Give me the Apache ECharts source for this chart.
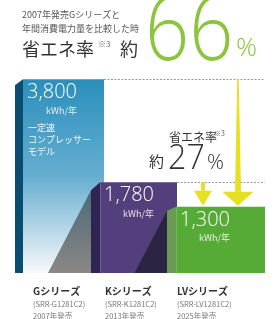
<!DOCTYPE html>
<html><head><meta charset="utf-8">
<script src="https://cdn.jsdelivr.net/npm/echarts@6/dist/echarts.min.js"></script>
<style>html,body{margin:0;padding:0;background:#fff}#c{width:280px;height:319px}</style>
</head><body><div id="c"></div>
<script>
// ---- data ----
const categories = ['Gシリーズ', 'Kシリーズ', 'LVシリーズ'];
const models = ['(SRR-G1281C2)', '(SRR-K1281C2)', '(SRR-LV1281C2)'];
const releaseYears = ['2007年発売', '2013年発売', '2025年発売'];
const consumption = [3800, 1780, 1300];           // kWh/年
const valueLabels = ['3,800', '1,780', '1,300'];
const unitLabel = 'kWh/年';
const barNotes = ['一定速\nコンプレッサー\nモデル', '', ''];
const savingVsG = 66;   // %
const savingVsK = 27;   // %
const headerLines = ['2007年発売Gシリーズと', '年間消費電力量を比較した時'];

// ---- layout / style (not data) ----
const JP = '"Noto Sans CJK JP", "Noto Sans", sans-serif';
const NUM = '"Open Sans", "Noto Sans", sans-serif';
const LAYOUT = [
  {faceL: -33.67, faceR: 47.33, strip: 8, slant: 6, labelX: -23.67},
  {faceL: -40, faceR: 37, strip: 9, slant: 8, labelX: -35},
  {faceL: -47.33, faceR: 41.67, strip: 9, slant: 4, labelX: -46.33}
];
const FACE = [
  () => new echarts.graphic.LinearGradient(0, 0, 0, 1, [
    {offset: 0, color: '#2a8fbb'}, {offset: 0.5, color: '#66aed1'}, {offset: 1, color: '#f7f8fa'}]),
  () => '#533f7b',
  () => '#55ab35'
];
const STRIP = ['#0b4d70', '#2f2452', '#6b9a57'];
const SHADOW = [null,
  () => new echarts.graphic.LinearGradient(0, 0, 0, 1, [{offset: 0, color: '#4b6a7b'}, {offset: 1, color: '#8b8783'}]),
  () => '#2d2343'];
const ARROWS = [ // for previous bars j, drawn over the last bar
  {x: 62, headW: 31, headH: 15, shaftTop: 1.5, shaftBot: 6},
  {x: 27, headW: 18, headH: 16, shaftTop: 4, shaftBot: 4}
];
const YELLOW = '#e6e021';

function renderItem(params, api) {
  const i = params.dataIndex;
  const L = LAYOUT[i];
  const c = api.coord([i, api.value(1)]);
  const b = api.coord([i, 0]);
  const cs = params.coordSys;
  const right = cs.x + cs.width;
  const top = c[1], bottom = b[1];
  const faceL = c[0] + L.faceL, faceR = c[0] + L.faceR;
  const stripL = faceL - L.strip;
  const kids = [];
  if (SHADOW[i]) {
    const h = bottom - (top + L.slant);
    kids.push({type: 'polygon', shape: {points: [[stripL, top + L.slant], [stripL - h * 0.52, bottom], [stripL, bottom]]},
      style: {fill: SHADOW[i]()}});
  }
  kids.push({type: 'polygon', shape: {points: [[stripL, top + L.slant], [faceL, top], [faceL, bottom], [stripL, bottom]]},
    style: {fill: STRIP[i]}});
  kids.push({type: 'rect', shape: {x: faceL, y: top, width: faceR - faceL, height: bottom - top},
    style: {fill: FACE[i]()}});
  if (i > 0) kids.push({type: 'line', shape: {x1: faceL + 0.5, y1: top, x2: faceL + 0.5, y2: bottom},
    style: {stroke: 'rgba(255,255,255,0.18)', lineWidth: 1}});
  // value + unit
  kids.push({type: 'text', x: faceL + 4, y: top + 4, style: {
    text: '{n|' + valueLabels[i] + '}\n{u|' + unitLabel + '}', fill: '#fff',
    rich: {n: {font: '300 20px ' + NUM, lineHeight: 19, fill: '#fff'},
           u: {font: '9px ' + JP, lineHeight: 16, align: 'right', fill: 'rgba(255,255,255,0.85)'}}}});
  if (barNotes[i]) kids.push({type: 'text', x: faceL + 5, y: top + 42, style: {
    text: barNotes[i], font: '9px ' + JP, lineHeight: 12, fill: 'rgba(255,255,255,0.92)'}});
  // dashed reference line
  if (i < consumption.length - 1) kids.push({type: 'line',
    shape: {x1: faceR, y1: Math.round(top) + 0.5, x2: right, y2: Math.round(top) + 0.5},
    style: {stroke: '#9a9a9a', lineWidth: 1, lineDash: [2, 1.5]}});
  // arrows onto the last bar
  if (i === consumption.length - 1) {
    for (let j = 0; j < i; j++) {
      const A = ARROWS[j];
      const y0 = api.coord([j, consumption[j]])[1];
      const x = faceL + A.x;
      const yh = top - A.headH;
      kids.push({type: 'polygon', shape: {points: [[x - A.shaftTop / 2, y0], [x + A.shaftTop / 2, y0],
        [x + A.shaftBot / 2, yh], [x - A.shaftBot / 2, yh]]}, style: {fill: YELLOW}});
      kids.push({type: 'polygon', shape: {points: [[x - A.headW / 2, yh], [x + A.headW / 2, yh], [x, top - 1]]},
        style: {fill: YELLOW}});
    }
  }
  // category labels under bars
  kids.push({type: 'text', x: c[0] + L.labelX, y: bottom + 12, style: {
    text: '{a|' + categories[i] + '}\n{b|' + models[i] + '}\n{b|' + releaseYears[i] + '}',
    rich: {a: {font: 'bold 10px ' + JP, fill: '#333', lineHeight: 13},
           b: {font: '7.5px ' + JP, fill: '#777', lineHeight: 12}}}});
  return {type: 'group', children: kids};
}

const chart = echarts.init(document.getElementById('c'), null, {renderer: 'canvas'});
chart.setOption({
  animation: false,
  grid: {left: 15, right: 15, top: 69, bottom: 46},
  xAxis: {type: 'category', data: categories, show: false},
  yAxis: {type: 'value', min: 0, max: 4000, show: false},
  series: [{type: 'custom', renderItem: renderItem, clip: false,
    data: consumption.map((v, i) => [i, v])}],
  graphic: [
    {type: 'text', x: 22, y: 8, style: {text: headerLines.join('\n'), font: '9px ' + JP, lineHeight: 14, fill: '#555'}},
    {type: 'text', x: 22, y: 49, style: {text: '省エネ率', font: '18px ' + JP, fill: '#333', verticalAlign: 'middle'}},
    {type: 'text', x: 98, y: 44, style: {text: '※3', font: '8px ' + JP, fill: '#666', verticalAlign: 'middle'}},
    {type: 'text', x: 120, y: 49, style: {text: '約', font: '18px ' + JP, fill: '#333', verticalAlign: 'middle'}},
    {type: 'text', x: 145, y: 34, scaleX: 0.86, style: {text: String(savingVsG), font: '200 90px ' + NUM, fill: '#8cc43c', verticalAlign: 'middle'}},
    {type: 'text', x: 236, y: 49, style: {text: '%', font: '300 26px ' + NUM, fill: '#8cc43c', verticalAlign: 'middle'}},
    {type: 'text', x: 169, y: 137, style: {text: '省エネ率', font: '12px ' + JP, fill: '#333', verticalAlign: 'middle'}},
    {type: 'text', x: 214, y: 133, style: {text: '※3', font: '7px ' + JP, fill: '#666', verticalAlign: 'middle'}},
    {type: 'text', x: 149, y: 161, style: {text: '約', font: '15px ' + JP, fill: '#333', verticalAlign: 'middle'}},
    {type: 'text', x: 168, y: 159, scaleX: 0.92, style: {text: String(savingVsK), font: '300 35px ' + NUM, fill: '#333', verticalAlign: 'middle'}},
    {type: 'text', x: 207, y: 163, style: {text: '%', font: '300 21px ' + NUM, fill: '#333', verticalAlign: 'middle'}}
  ]
});
</script></body></html>
